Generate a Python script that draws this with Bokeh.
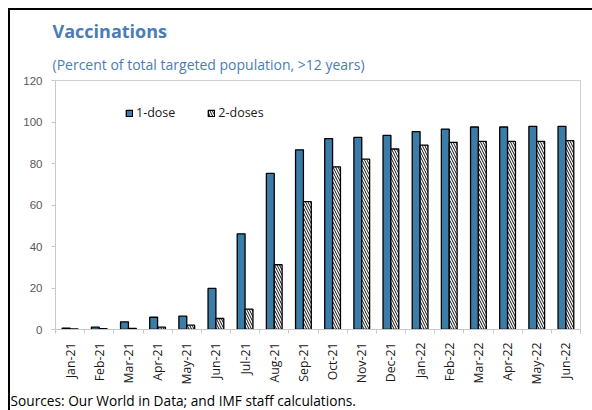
from bokeh.plotting import figure
from bokeh.models import (Range1d, FixedTicker, Title, Legend, LegendItem,
                          ColumnDataSource)
from bokeh.embed import file_html
from bokeh.resources import INLINE

months = ["Jan-21", "Feb-21", "Mar-21", "Apr-21", "May-21", "Jun-21",
          "Jul-21", "Aug-21", "Sep-21", "Oct-21", "Nov-21", "Dec-21",
          "Jan-22", "Feb-22", "Mar-22", "Apr-22", "May-22", "Jun-22"]
one_dose = [0.7, 1.1, 3.7, 5.9, 6.4, 19.8, 46.1, 75.2, 86.6, 92.0, 92.6,
            93.6, 95.4, 96.6, 97.6, 97.6, 97.9, 97.9]
two_doses = [0.3, 0.4, 0.5, 1.1, 2.1, 5.3, 9.8, 31.2, 61.6, 78.4, 82.1,
             87.0, 88.9, 90.2, 90.7, 90.7, 90.7, 91.0]
y_ticks = [0, 20, 40, 60, 80, 100, 120]

BLUE = "#3b7ca8"
TITLE_BLUE = "#4a7db5"
GRID = "#c8c8c8"
TXT = "#595959"
FONT = "Open Sans"

idx = list(range(len(months)))
bw = 0.27
src = ColumnDataSource(dict(
    x1=[i - bw / 2 for i in idx], x2=[i + bw / 2 for i in idx],
    one=one_dose, two=two_doses))

p = figure(width=592, height=410, output_backend="svg", toolbar_location=None,
           x_range=Range1d(-0.5, len(months) - 0.5), y_range=Range1d(0, 120),
           min_border_left=55, min_border_right=12, min_border_top=80,
           min_border_bottom=80)
p.grid.visible = False
p.outline_line_color = "#d0d0d0"
p.outline_line_width = 1
p.background_fill_color = "white"
p.border_fill_color = None
# panel frame: black rule along the top and left edge of the chart box
p.styles = {
    "background": ("linear-gradient(#000, #000) 8px 8px / 2px 100% no-repeat, "
                   "linear-gradient(#000, #000) 8px 8px / 100% 2px no-repeat, "
                   "#fff"),
}

r1 = p.vbar(x="x1", top="one", width=bw, source=src, fill_color=BLUE,
            line_color="black", line_width=1.3)
r2 = p.vbar(x="x2", top="two", width=bw, source=src, fill_color="white",
            line_color="black", line_width=1.3, hatch_pattern="\\",
            hatch_color="#111111", hatch_scale=5, hatch_weight=1)

# y axis
ya = p.yaxis[0]
ya.ticker = FixedTicker(ticks=y_ticks)
ya.axis_line_color = GRID
ya.major_tick_line_color = GRID
ya.major_tick_out = 4
ya.major_tick_in = 0
ya.minor_tick_line_color = None
ya.major_label_text_color = TXT
ya.major_label_text_font = "Liberation Sans"
ya.major_label_text_font_size = "11.5px"
ya.major_label_standoff = 9

# x axis: month labels at bar centres, tick marks between months
xa = p.xaxis[0]
xa.ticker = FixedTicker(ticks=idx, minor_ticks=[i - 0.5 for i in idx] + [len(idx) - 0.5])
xa.major_label_overrides = {i: m for i, m in enumerate(months)}
xa.major_label_orientation = 3.14159265 / 2
xa.major_tick_line_color = None
xa.minor_tick_line_color = GRID
xa.minor_tick_out = 4
xa.minor_tick_in = 0
xa.axis_line_color = GRID
xa.major_label_text_color = "#1a1a1a"
xa.major_label_text_font = FONT
xa.major_label_text_font_size = "12.3px"
xa.major_label_standoff = 7

legend = Legend(items=[LegendItem(label="1-dose", renderers=[r1]),
                       LegendItem(label="2-doses", renderers=[r2])],
                orientation="horizontal", location=(70, 208),
                glyph_width=8, glyph_height=8, label_standoff=3, spacing=32,
                padding=0, margin=0, border_line_color=None,
                background_fill_alpha=0, label_text_font=FONT,
                label_text_font_size="12.5px", label_text_color="#1a1a1a")
p.add_layout(legend, "center")

p.add_layout(Title(text="(Percent of total targeted population, >12 years)",
                   align="left", offset=-3, standoff=13,
                   text_font=FONT, text_font_size="14px",
                   text_font_style="normal", text_color=TITLE_BLUE), "above")
p.add_layout(Title(text="Vaccinations", align="left", offset=-3, standoff=7,
                   text_font=FONT, text_font_size="18px",
                   text_font_style="bold", text_color=TITLE_BLUE), "above")
p.add_layout(Title(text="Sources: Our World in Data; and IMF staff calculations.",
                   align="left", offset=-45, standoff=2,
                   text_font=FONT, text_font_size="13.7px",
                   text_font_style="normal", text_color="black"), "below")

open("out.html", "w").write(file_html(p, INLINE))
